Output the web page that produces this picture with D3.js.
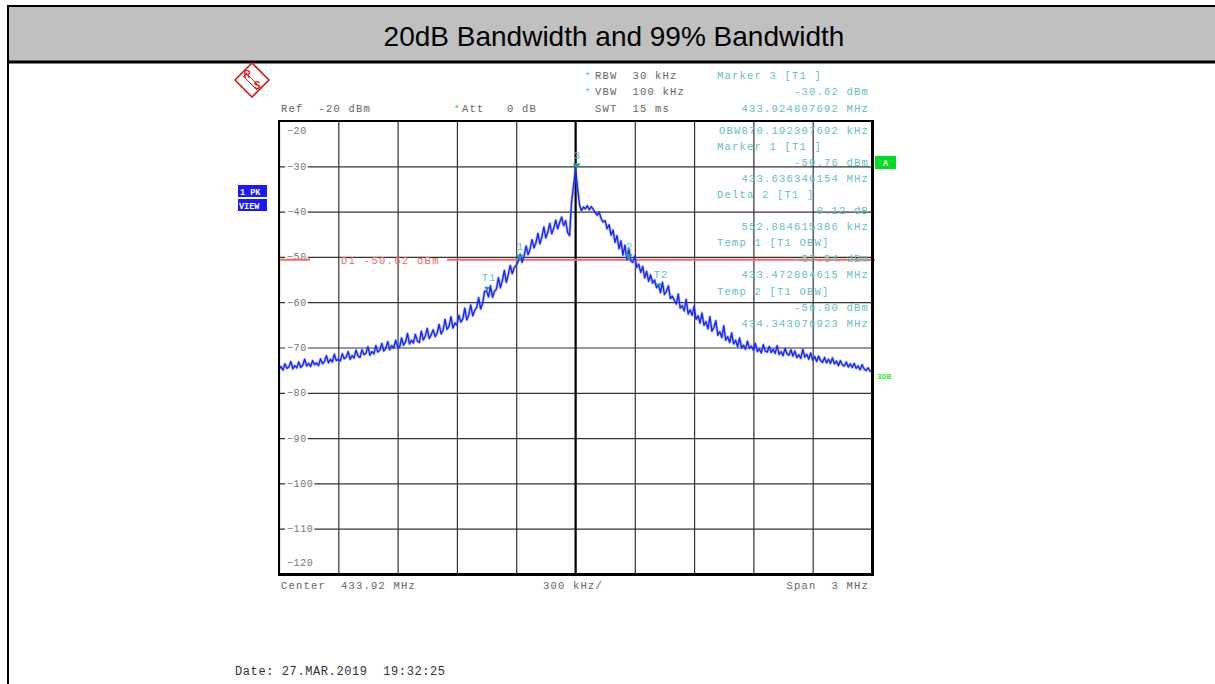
<!DOCTYPE html>
<html><head><meta charset="utf-8">
<script src="https://cdn.jsdelivr.net/npm/d3@7"></script>
<style>body{margin:0;background:#fff;}svg{display:block;}</style>
</head><body>
<svg id="c" width="1215" height="684"></svg>
<script>
// ---------- data ----------
const title = "20dB Bandwidth and 99% Bandwidth";
const freqStart = 432.42, freqStop = 435.42;       // MHz (center 433.92, span 3 MHz)
const refLevel = -20, bottomLevel = -120;
const yTickValues = [-20,-30,-40,-50,-60,-70,-80,-90,-100,-110,-120];
const xDivisions = [0,1,2,3,4,5,6,7,8,9,10];
const traceLevels = [
-74.8,-74.2,-75.0,-73.6,-74.6,-74.3,-73.1,-74.7,-74.0,-74.5,
-73.2,-74.4,-73.9,-72.6,-74.1,-73.5,-74.2,-72.9,-73.8,-73.4,
-74.0,-72.5,-73.6,-73.1,-71.8,-73.4,-72.6,-73.2,-71.5,-72.9,
-72.6,-73.0,-71.4,-72.5,-72.1,-70.9,-72.6,-71.8,-72.3,-70.6,
-71.9,-72.2,-70.5,-71.6,-71.3,-69.8,-71.7,-70.9,-71.4,-69.6,
-71.0,-70.6,-69.1,-70.8,-70.2,-68.7,-70.5,-69.6,-70.1,-68.4,
-69.8,-70.0,-67.9,-69.5,-68.8,-66.9,-69.2,-68.4,-69.0,-67.1,
-68.6,-68.9,-66.4,-68.3,-67.5,-65.8,-68.0,-67.2,-66.1,-67.6,
-66.8,-64.9,-67.0,-66.2,-63.8,-66.0,-65.4,-63.2,-65.7,-64.6,
-65.1,-62.9,-64.4,-63.7,-61.3,-63.9,-62.8,-60.6,-63.0,-61.8,
-61.2,-59.0,-61.5,-60.3,-57.6,-57.5,-58.8,-56.4,-58.9,-57.6,
-57.1,-54.6,-56.8,-55.2,-53.0,-55.6,-53.9,-51.9,-53.7,-52.4,
-51.8,-51.0,-49.4,-51.2,-49.8,-47.6,-49.5,-48.3,-46.2,-48.0,
-46.9,-44.8,-47.1,-45.6,-43.4,-45.8,-44.5,-42.6,-44.9,-43.7,
-41.9,-43.8,-42.4,-41.2,-43.1,-42.0,-44.6,-45.3,-38.0,-34.3,
-30.6,-34.6,-38.4,-39.8,-39.0,-39.4,-38.7,-39.6,-38.9,-39.5,
-40.2,-40.8,-40.1,-41.6,-42.3,-42.0,-43.8,-42.9,-45.2,-44.1,
-46.8,-45.3,-48.2,-46.5,-49.6,-47.4,-50.6,-48.1,-50.9,-51.2,
-49.8,-52.3,-51.6,-53.4,-52.1,-54.6,-53.2,-55.4,-54.0,-55.8,
-55.1,-56.8,-56.2,-57.9,-55.6,-58.3,-57.6,-56.4,-59.2,-58.7,
-59.6,-60.4,-58.2,-61.3,-60.8,-61.9,-59.4,-62.6,-61.7,-62.9,
-60.9,-63.8,-63.0,-64.6,-62.4,-65.1,-64.3,-65.9,-63.2,-66.4,
-65.6,-64.1,-67.3,-66.5,-67.8,-65.2,-68.4,-67.6,-68.9,-66.8,
-69.2,-68.4,-69.8,-67.9,-70.1,-69.5,-70.4,-68.6,-70.2,-69.7,
-70.6,-69.1,-70.9,-70.3,-71.2,-69.4,-70.8,-71.0,-69.8,-71.1,
-70.4,-71.3,-69.6,-71.5,-70.9,-71.8,-70.2,-71.4,-71.7,-70.5,
-71.9,-70.8,-72.2,-71.6,-72.4,-70.4,-72.1,-71.5,-72.6,-71.2,
-72.8,-72.0,-73.1,-71.9,-72.9,-73.3,-72.2,-73.4,-72.6,-73.5,
-72.3,-73.6,-73.0,-74.0,-72.9,-73.8,-74.1,-73.2,-74.3,-73.6,
-74.4,-73.5,-74.6,-74.1,-74.9,-73.8,-74.7,-75.1,-74.5,-75.2,
-75.4
];
const markerNames  = ["3","1","2","T1","T2"];
const markerFreqs  = [433.924807692, 433.636346154, 434.189230769, 433.472884615, 434.343076923];
const markerLevels = [-30.62, -50.76, -50.64, -57.54, -56.80];
const displayLine = -50.62;
const displayLineLabel = "D1 -50.62 dBm";
const markerInfoLeft  = ["Marker 3 [T1 ]", "", "", "", "Marker 1 [T1 ]", "", "", "Delta 2 [T1 ]", "", "", "Temp 1 [T1 OBW]", "", "", "Temp 2 [T1 OBW]", "", ""];
const markerInfoRight = ["", "-30.62 dBm", "433.924807692 MHz", "OBW870.192307692 kHz", "", "-50.76 dBm", "433.636346154 MHz", "", "0.12 dB", "552.884615386 kHz", "", "-57.54 dBm", "433.472884615 MHz", "", "-56.80 dBm", "434.343076923 MHz"];
const settingStar  = [true, true, false];
const settingTexts = ["RBW  30 kHz", "VBW  100 kHz", "SWT  15 ms"];
const refText = "Ref  -20 dBm";
const attText = "Att   0 dB";
const footLeft = "Center  433.92 MHz", footMid = "300 kHz/", footRight = "Span  3 MHz";
const dateText = "Date: 27.MAR.2019  19:32:25";

// ---------- drawing ----------
const svg = d3.select("#c");
const mono = "'Liberation Mono','DejaVu Sans Mono',monospace";
const L = 279, R = 872, T = 121, B = 574;
const x = d3.scaleLinear().domain([freqStart, freqStop]).range([L, R]);
const y = d3.scaleLinear().domain([bottomLevel, refLevel]).range([B, T]);

// title bar
svg.append("rect").attr("x",8).attr("y",6).attr("width",1210).attr("height",56).attr("fill","#c0c0c0");
svg.append("line").attr("x1",7).attr("x2",1215).attr("y1",6).attr("y2",6).attr("stroke","#000").attr("stroke-width",2);
svg.append("line").attr("x1",7).attr("x2",1215).attr("y1",62).attr("y2",62).attr("stroke","#000").attr("stroke-width",3);
svg.append("line").attr("x1",8).attr("x2",8).attr("y1",5).attr("y2",684).attr("stroke","#000").attr("stroke-width",2);
svg.append("text").attr("x",614).attr("y",46).attr("text-anchor","middle")
  .attr("font-family","'Liberation Sans',Arial,sans-serif").attr("font-size",28).attr("fill","#000").text(title);

// grid via axes
const gx = svg.append("g").attr("transform",`translate(0,${B})`)
  .call(d3.axisBottom(x).tickValues(xDivisions.map(i => freqStart + i*(freqStop-freqStart)/10)).tickSize(-(B-T)).tickFormat(""));
gx.select(".domain").remove();
gx.selectAll("line").attr("stroke","#333").attr("stroke-width",1.2);
const gy = svg.append("g").attr("transform",`translate(${L},0)`)
  .call(d3.axisLeft(y).tickValues(yTickValues).tickSize(-(R-L)).tickFormat(""));
gy.select(".domain").remove();
gy.selectAll("line").attr("stroke","#333").attr("stroke-width",1.2);
// center line
svg.append("line").attr("x1",x((freqStart+freqStop)/2)).attr("x2",x((freqStart+freqStop)/2)).attr("y1",T).attr("y2",B).attr("stroke","#000").attr("stroke-width",2);

// y labels with white background
yTickValues.forEach(v => {
  let yy = y(v), ty;
  if (v === refLevel) ty = yy + 13; else if (v === bottomLevel) ty = yy - 8; else ty = yy + 3.5;
  const lab = "\u2212" + Math.abs(v);
  if (v !== refLevel && v !== bottomLevel) {
    svg.append("rect").attr("x",L+6).attr("y",yy-5).attr("width", lab.length*6.6+3).attr("height",10).attr("fill","#fff");
  }
  svg.append("text").attr("x",L+8).attr("y",ty).attr("font-family",mono).attr("font-size",10)
    .attr("letter-spacing",0.6).attr("fill","#777").text(lab);
});

// display line D1
const dly = y(displayLine);
svg.append("line").attr("x1",L).attr("x2",310).attr("y1",dly).attr("y2",dly).attr("stroke","#f56666").attr("stroke-width",2);
svg.append("line").attr("x1",447).attr("x2",R+3).attr("y1",dly).attr("y2",dly).attr("stroke","#f56666").attr("stroke-width",2);
svg.append("text").attr("x",341).attr("y",dly+4).attr("font-family",mono).attr("font-size",10.5)
  .attr("letter-spacing",1.3).attr("fill","#f06a6a").text(displayLineLabel);

// trace
const step = (freqStop - freqStart)/(traceLevels.length-1);
const line = d3.line().x((d,i) => x(freqStart + i*step)).y(d => y(d));
svg.append("path").datum(traceLevels).attr("d",line).attr("fill","none")
  .attr("stroke","#6b78ff").attr("stroke-width",3).attr("stroke-opacity",0.4).attr("stroke-linejoin","round");
svg.append("path").datum(traceLevels).attr("d",line).attr("fill","none")
  .attr("stroke","#1626ff").attr("stroke-width",1.4).attr("stroke-linejoin","round");

// markers
markerNames.forEach((n,i) => {
  const mx = x(markerFreqs[i]), my = y(markerLevels[i]);
  const s = n.startsWith("T") ? 3 : 4;
  svg.append("path").attr("d",`M${mx-s},${my-s*1.4}L${mx+s},${my-s*1.4}L${mx},${my}Z`).attr("fill","#1a9c9c");
  svg.append("text").attr("x", n.startsWith("T") ? mx+2 : mx+1).attr("y", my-10).attr("text-anchor","middle")
    .attr("font-family",mono).attr("font-size",10.5).attr("letter-spacing",1).attr("fill","#5fc2c2").text(n);
});

// header settings
settingTexts.forEach((t,i) => {
  const yy = 78.5 + i*16.5;
  if (settingStar[i]) svg.append("text").attr("x",585).attr("y",yy).attr("font-family",mono).attr("font-size",9).attr("fill","#22cc22").text("*");
  svg.append("text").attr("x",595).attr("y",yy).attr("font-family",mono).attr("font-size",10.5).attr("letter-spacing",1.2).attr("fill","#666").attr("xml:space","preserve").text(t);
});
svg.append("text").attr("x",281).attr("y",111.5).attr("font-family",mono).attr("font-size",10.5).attr("letter-spacing",1.2).attr("fill","#666").attr("xml:space","preserve").text(refText);
svg.append("text").attr("x",454).attr("y",111.5).attr("font-family",mono).attr("font-size",9).attr("fill","#22cc22").text("*");
svg.append("text").attr("x",462).attr("y",111.5).attr("font-family",mono).attr("font-size",10.5).attr("letter-spacing",1.2).attr("fill","#666").attr("xml:space","preserve").text(attText);

// marker info block
markerInfoLeft.forEach((t,i) => {
  const yy = i < 3 ? 78.5 + i*16.5 : 133.5 + (i-3)*16.1;
  if (t) svg.append("text").attr("x",717).attr("y",yy).attr("font-family",mono).attr("font-size",10.5).attr("letter-spacing",1.2).attr("fill","#5fc2c2").attr("xml:space","preserve").text(t);
  const r = markerInfoRight[i];
  if (r) svg.append("text").attr("x",869).attr("y",yy).attr("text-anchor","end").attr("font-family",mono).attr("font-size",10.5).attr("letter-spacing",1.2).attr("fill","#5fc2c2").attr("xml:space","preserve").text(r);
});

// frame
svg.append("rect").attr("x",L).attr("y",T).attr("width",R-L).attr("height",B-T).attr("fill","none").attr("stroke","#000").attr("stroke-width",2);
svg.append("line").attr("x1",R+1).attr("x2",R+1).attr("y1",T-1).attr("y2",B+2).attr("stroke","#000").attr("stroke-width",2);
svg.append("line").attr("x1",L-1).attr("x2",R+2).attr("y1",B+1).attr("y2",B+1).attr("stroke","#000").attr("stroke-width",2);

// side labels
svg.append("rect").attr("x",238).attr("y",185).attr("width",29).attr("height",12).attr("fill","#1a1aff");
svg.append("rect").attr("x",238).attr("y",199).attr("width",29).attr("height",12).attr("fill","#1a1aff");
svg.append("text").attr("x",240).attr("y",194.5).attr("font-family",mono).attr("font-size",8.5).attr("font-weight","bold").attr("fill","#fff").attr("xml:space","preserve").text("1 PK");
svg.append("text").attr("x",239).attr("y",208.5).attr("font-family",mono).attr("font-size",8.5).attr("font-weight","bold").attr("fill","#fff").text("VIEW");
svg.append("rect").attr("x",875).attr("y",156).attr("width",21).attr("height",13).attr("fill","#00dd22");
svg.append("text").attr("x",885.5).attr("y",166).attr("text-anchor","middle").attr("font-family",mono).attr("font-size",9).attr("font-weight","bold").attr("fill","#fff").text("A");
svg.append("text").attr("x",877).attr("y",379).attr("font-family",mono).attr("font-size",8).attr("font-weight","bold").attr("fill","#33ee33").text("3DB");

// footer
svg.append("text").attr("x",281).attr("y",589).attr("font-family",mono).attr("font-size",10.5).attr("letter-spacing",1.2).attr("fill","#666").attr("xml:space","preserve").text(footLeft);
svg.append("text").attr("x",543).attr("y",589).attr("font-family",mono).attr("font-size",10.5).attr("letter-spacing",1.2).attr("fill","#666").attr("xml:space","preserve").text(footMid);
svg.append("text").attr("x",869).attr("y",589).attr("text-anchor","end").attr("font-family",mono).attr("font-size",10.5).attr("letter-spacing",1.2).attr("fill","#666").attr("xml:space","preserve").text(footRight);
svg.append("text").attr("x",235).attr("y",675).attr("font-family",mono).attr("font-size",12).attr("letter-spacing",0.6).attr("fill","#333").attr("xml:space","preserve").text(dateText);

// R&S logo
const lg = svg.append("g").attr("transform","translate(252,80)");
lg.append("path").attr("d","M0,-17L17,0L0,17L-17,0Z").attr("fill","none").attr("stroke","#d42020").attr("stroke-width",1.6);
lg.append("line").attr("x1",-9).attr("y1",-4).attr("x2",6).attr("y2",11).attr("stroke","#d42020").attr("stroke-width",1);
lg.append("line").attr("x1",-6).attr("y1",-7).attr("x2",9).attr("y2",8).attr("stroke","#d42020").attr("stroke-width",1);
lg.append("text").attr("x",-5).attr("y",-2).attr("text-anchor","middle").attr("font-family","'Liberation Sans',sans-serif").attr("font-size",10).attr("font-weight","bold").attr("fill","#d42020").text("R");
lg.append("text").attr("x",5).attr("y",9).attr("text-anchor","middle").attr("font-family","'Liberation Sans',sans-serif").attr("font-size",10).attr("font-weight","bold").attr("fill","#d42020").text("S");
</script>
</body></html>
